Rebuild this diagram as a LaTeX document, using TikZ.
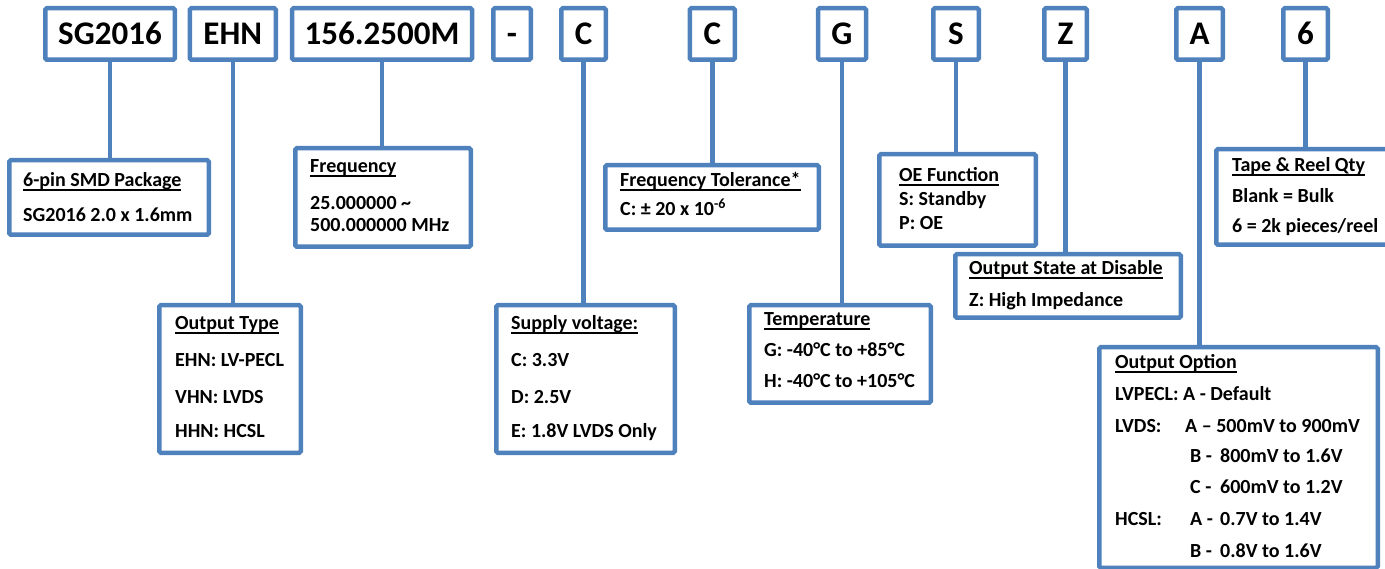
\documentclass[tikz,border=0pt]{standalone}
\usepackage{fontspec}
\setmainfont{Carlito}
\definecolor{bl}{HTML}{4F81BD}
\newcommand\ulx[1]{\setbox0\hbox{#1}\rlap{\rule[-3.6pt]{\wd0}{1.3pt}}\box0}
\begin{document}
\begin{tikzpicture}[x=1pt,y=-1pt,
  box/.style={draw=bl, line width=4.5pt, rounded corners=1.5pt, inner sep=0pt, fill=white},
  topbox/.style={box, minimum height=51.5pt, text height=22pt, text depth=0pt, font=\fontsize{33}{33}\selectfont\bfseries},
  txt/.style={anchor=base west, inner sep=0pt, font=\fontsize{20}{20}\selectfont\bfseries},
  link/.style={draw=bl, line width=4.5pt}]
\useasboundingbox (0,0) rectangle (1385,569);
\clip (0,0) rectangle (1385,569);
% top code boxes
\node[topbox, minimum width=129.5pt] (t1) at (110,34) {SG2016};
\node[topbox, minimum width=86pt] (t2) at (232.75,34) {EHN};
\node[topbox, minimum width=180pt] (t3) at (382,34) {156.2500M};
\node[topbox, minimum width=37.5pt] (t4) at (512,34) {-};
\node[topbox, minimum width=44.5pt] (t5) at (583.5,34) {C};
\node[topbox, minimum width=45pt] (t6) at (712.3,34) {C};
\node[topbox, minimum width=48pt] (t7) at (842,34) {G};
\node[topbox, minimum width=45.5pt] (t8) at (956,34) {S};
\node[topbox, minimum width=42.5pt] (t9) at (1065.5,34) {Z};
\node[topbox, minimum width=46.5pt] (t10) at (1199.5,34) {A};
\node[topbox, minimum width=44.5pt] (t11) at (1305.5,34) {6};
% description boxes
\node[box, minimum width=199.5pt, minimum height=74.5pt] (pkg) at (109,197.5) {};
\node[box, minimum width=175.5pt, minimum height=98.5pt] (freq) at (383,197.5) {};
\node[box, minimum width=141.5pt, minimum height=147.5pt] (otype) at (230,379) {};
\node[box, minimum width=178.5pt, minimum height=147.5pt] (supply) at (585.5,379) {};
\node[box, minimum width=213.5pt, minimum height=64.5pt] (tol) at (712,197.5) {};
\node[box, minimum width=181.5pt, minimum height=97.5pt] (temp) at (840,354) {};
\node[box, minimum width=156.5pt, minimum height=91.5pt] (oe) at (957.5,200) {};
\node[box, minimum width=225.5pt, minimum height=63.5pt] (state) at (1068,286) {};
\node[box, minimum width=181.5pt, minimum height=95.5pt] (tape) at (1307,197) {};
\node[box, minimum width=278.5pt, minimum height=220.5pt] (opt) at (1238.5,457.5) {};
% connectors
\foreach \a/\b in {t1/pkg, t2/otype, t3/freq, t5/supply, t6/tol, t7/temp, t8/oe, t9/state, t10/opt, t11/tape}
  \draw[link] (\a.south) -- (\a.south |- \b.north);
% texts
\node[txt] (pkg1) at (23,187) {\ulx{6-pin SMD Package}};
\node[txt] (pkg2) at (23,222) {SG2016 2.0 x 1.6mm};
\node[txt] (freq1) at (310,173) {\ulx{Frequency}};
\node[txt] (freq2) at (310,210) {25.000000 \textasciitilde};
\node[txt] (freq3) at (310,232) {500.000000 MHz};
\node[txt] (tol1) at (620,187) {\ulx{Frequency Tolerance*}};
\node[txt] (tol2) at (620,216) {C: ± 20 x 10\textsuperscript{-6}};
\node[txt] (oe1) at (899,182) {\ulx{OE Function}};
\node[txt] (oe2) at (899,206) {S: Standby};
\node[txt] (oe3) at (899,230) {P: OE};
\node[txt] (st1) at (969,275) {\ulx{Output State at Disable}};
\node[txt] (st2) at (969,307) {Z: High Impedance};
\node[txt] (tp1) at (1232,172) {\ulx{Tape \& Reel Qty}};
\node[txt] (tp2) at (1232,203) {Blank = Bulk};
\node[txt] (tp3) at (1232,233) {6 = 2k pieces/reel};
\node[txt] (ot1) at (175,330) {\ulx{Output Type}};
\node[txt] (ot2) at (175,367) {EHN: LV-PECL};
\node[txt] (ot3) at (175,403) {VHN: LVDS};
\node[txt] (ot4) at (175,438) {HHN: HCSL};
\node[txt] (sv1) at (511,330) {\ulx{Supply voltage:}};
\node[txt] (sv2) at (511,367) {C: 3.3V};
\node[txt] (sv3) at (511,403) {D: 2.5V};
\node[txt] (sv4) at (511,438) {E: 1.8V LVDS Only};
\node[txt] (tm1) at (764,326) {\ulx{Temperature}};
\node[txt] (tm2) at (764,357) {G: -40°C to +85°C};
\node[txt] (tm3) at (764,388) {H: -40°C to +105°C};
\node[txt] (op1) at (1115,369) {\ulx{Output Option}};
\node[txt] (op2) at (1115,400) {LVPECL: A - Default};
\node[txt] (op3) at (1115,432) {LVDS:};
\node[txt] (op3b) at (1185,432) {A – 500mV to 900mV};
\node[txt] (op4) at (1190,462) {\makebox[30pt][l]{B -}800mV to 1.6V};
\node[txt] (op5) at (1190,493) {\makebox[30pt][l]{C -}600mV to 1.2V};
\node[txt] (op6) at (1115,525) {HCSL:};
\node[txt] (op6b) at (1190,525) {\makebox[30pt][l]{A -}0.7V to 1.4V};
\node[txt] (op7) at (1190,557) {\makebox[30pt][l]{B -}0.8V to 1.6V};
\end{tikzpicture}
\end{document}
